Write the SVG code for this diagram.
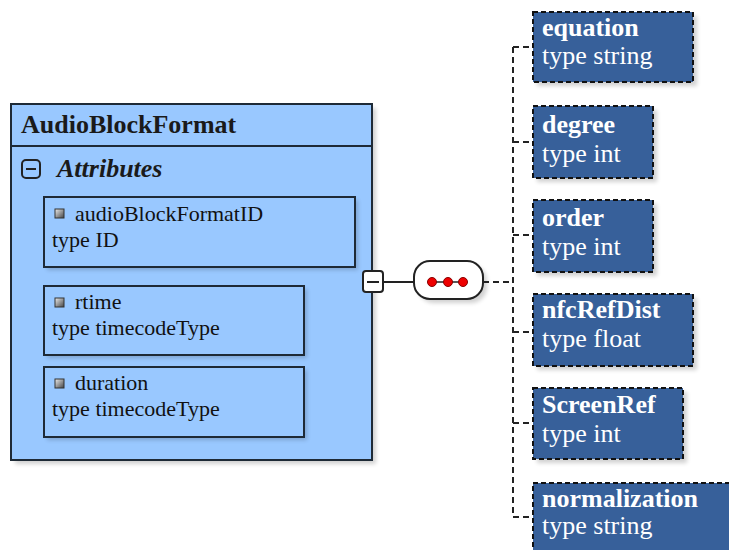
<svg xmlns="http://www.w3.org/2000/svg" width="729" height="550" viewBox="0 0 729 550">
<style>
text{font-family:"Liberation Serif","Times New Roman",serif;}
.hdr{font-size:26px;font-weight:bold;fill:#1a1a1a;}
.attr{font-size:26px;font-weight:bold;font-style:italic;fill:#1a1a1a;}
.t{font-size:22px;fill:#111;}
.wn{font-size:26px;font-weight:bold;fill:#fff;}
.wt{font-size:26px;fill:#fff;}
.lbox{fill:#99c8ff;stroke:#1e2a36;stroke-width:2;}
.dbox{fill:#37609a;stroke:#111;stroke-width:2;stroke-dasharray:5,3;}
.sh{fill:#000;opacity:0.18;}
.conn{fill:none;stroke:#222;stroke-width:2;stroke-dasharray:6,4;}
</style>
<defs>
<filter id="blur" x="-10%" y="-10%" width="130%" height="130%"><feGaussianBlur stdDeviation="2"/></filter>
<linearGradient id="ic" x1="0" y1="0" x2="1" y2="1"><stop offset="0" stop-color="#eee"/><stop offset="1" stop-color="#444"/></linearGradient>
</defs>
<rect width="729" height="550" fill="#fff"/>

<g id="AudioBlockFormat">
<rect class="sh" x="15" y="108" width="361" height="356" filter="url(#blur)"/>
<rect class="lbox" x="11" y="104" width="361" height="356"/>
<line x1="11" y1="146" x2="372" y2="146" stroke="#1e2a36" stroke-width="2"/>
<text class="hdr" x="21" y="133">AudioBlockFormat</text>
<rect x="22" y="160" width="18" height="18" rx="4" fill="none" stroke="#222" stroke-width="2"/>
<line x1="26" y1="169" x2="36" y2="169" stroke="#222" stroke-width="2"/>
<text class="attr" x="57" y="177">Attributes</text>
</g>

<g id="audioBlockFormatID">
<rect class="sh" x="47" y="200" width="311" height="70" filter="url(#blur)"/>
<rect class="lbox" x="44" y="197" width="311" height="70"/>
<rect x="55" y="209" width="9" height="9" fill="url(#ic)" stroke="#333" stroke-width="1"/>
<text class="t" x="75" y="221">audioBlockFormatID</text>
<text class="t" x="52" y="247">type ID</text>
</g>

<g id="rtime">
<rect class="sh" x="47" y="289" width="260" height="69" filter="url(#blur)"/>
<rect class="lbox" x="44" y="286" width="260" height="69"/>
<rect x="55" y="298" width="9" height="9" fill="url(#ic)" stroke="#333" stroke-width="1"/>
<text class="t" x="75" y="309">rtime</text>
<text class="t" x="52" y="335">type timecodeType</text>
</g>

<g id="duration">
<rect class="sh" x="47" y="370" width="260" height="70" filter="url(#blur)"/>
<rect class="lbox" x="44" y="367" width="260" height="70"/>
<rect x="55" y="379" width="9" height="9" fill="url(#ic)" stroke="#333" stroke-width="1"/>
<text class="t" x="75" y="390">duration</text>
<text class="t" x="52" y="416">type timecodeType</text>
</g>

<g id="sequence">
<rect class="sh" x="418" y="265" width="69" height="38" rx="16" filter="url(#blur)"/>
<rect x="414" y="261" width="69" height="38" rx="16" fill="#fff" stroke="#222" stroke-width="2"/>
<line x1="432" y1="282" x2="463" y2="282" stroke="#222" stroke-width="1.5"/>
<circle cx="432" cy="282" r="4.5" fill="#e00" stroke="#800" stroke-width="1"/>
<circle cx="448" cy="282" r="4.5" fill="#e00" stroke="#800" stroke-width="1"/>
<circle cx="463" cy="282" r="4.5" fill="#e00" stroke="#800" stroke-width="1"/>
</g>

<g id="connectors">
<line x1="383" y1="282" x2="414" y2="282" stroke="#222" stroke-width="2"/>
<line class="conn" x1="483" y1="282" x2="513" y2="282"/>
<line class="conn" x1="513" y1="47" x2="513" y2="517"/>
<line class="conn" x1="513" y1="47" x2="533" y2="47"/>
<line class="conn" x1="513" y1="142" x2="533" y2="142"/>
<line class="conn" x1="513" y1="235" x2="533" y2="235"/>
<line class="conn" x1="513" y1="332" x2="533" y2="332"/>
<line class="conn" x1="513" y1="423" x2="533" y2="423"/>
<line class="conn" x1="513" y1="517" x2="533" y2="517"/>
</g>

<g id="collapse">
<rect x="363" y="271" width="20" height="21" rx="3" fill="#fff" stroke="#222" stroke-width="2"/>
<line x1="367" y1="282" x2="379" y2="282" stroke="#222" stroke-width="2"/>
</g>

<g id="equation">
<rect class="sh" x="537" y="16" width="160" height="70" filter="url(#blur)"/>
<rect class="dbox" x="533" y="12" width="160" height="70"/>
<text class="wn" x="542" y="36">equation</text>
<text class="wt" x="542" y="64">type string</text>
</g>

<g id="degree">
<rect class="sh" x="537" y="110" width="120" height="72" filter="url(#blur)"/>
<rect class="dbox" x="533" y="106" width="120" height="72"/>
<text class="wn" x="542" y="133">degree</text>
<text class="wt" x="542" y="162">type int</text>
</g>

<g id="order">
<rect class="sh" x="537" y="204" width="120" height="72" filter="url(#blur)"/>
<rect class="dbox" x="533" y="200" width="120" height="72"/>
<text class="wn" x="542" y="226">order</text>
<text class="wt" x="542" y="255">type int</text>
</g>

<g id="nfcRefDist">
<rect class="sh" x="537" y="298" width="160" height="72" filter="url(#blur)"/>
<rect class="dbox" x="533" y="294" width="160" height="72"/>
<text class="wn" x="542" y="318">nfcRefDist</text>
<text class="wt" x="542" y="347">type float</text>
</g>

<g id="ScreenRef">
<rect class="sh" x="537" y="392" width="150" height="71" filter="url(#blur)"/>
<rect class="dbox" x="533" y="388" width="150" height="71"/>
<text class="wn" x="542" y="413">ScreenRef</text>
<text class="wt" x="542" y="442">type int</text>
</g>

<g id="normalization">
<rect class="sh" x="537" y="487" width="200" height="80" filter="url(#blur)"/>
<rect class="dbox" x="533" y="483" width="200" height="80"/>
<text class="wn" x="542" y="507">normalization</text>
<text class="wt" x="542" y="534">type string</text>
</g>
</svg>
